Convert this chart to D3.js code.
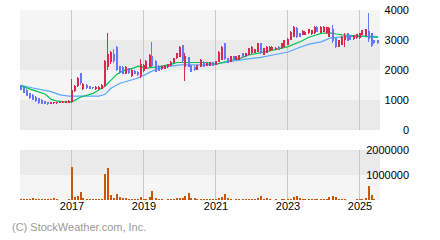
<!DOCTYPE html>
<html>
<head>
<meta charset="utf-8">
<script src="https://cdn.jsdelivr.net/npm/d3@7"></script>
<style>
    body { margin: 0; background: #fff; }
    svg text { font-family: "Liberation Sans", Arial, sans-serif; }
</style>
</head>
<body>
<div id="chart"></div>
<script>
// monthly candles, Aug 2015 .. Jul 2025
const startMonth = new Date(2015, 7, 1);
const months = d3.timeMonth.range(startMonth, new Date(2025, 7, 1));

const open = [
    1480, 1430, 1350, 1230, 1170, 1110, 1060, 1010, 960, 940,
    880, 890, 890, 900, 900, 900, 910, 920, 1310, 1470,
    1890, 1360, 1500, 1470, 1440, 1360, 1360, 1380, 1470, 2100,
    2280, 2550, 2780, 2120, 2100, 1880, 2060, 1800, 1980, 1950,
    1800, 1960, 2050, 2110, 2450, 2300, 2150, 2020, 2050, 2100,
    2150, 2220, 2390, 2440, 2830, 2100, 2420, 2170, 2110, 2000,
    2110, 2280, 2130, 2130, 2270, 2170, 2280, 2330, 2890, 2390,
    2280, 2470, 2330, 2350, 2560, 2450, 2500, 2560, 2580, 2610,
    2890, 2500, 2580, 2640, 2670, 2670, 2780, 2720, 2780, 2830,
    3000, 3110, 3400, 3220, 3170, 3170, 3220, 3190, 3220, 3440,
    3240, 3280, 3220, 3110, 3360, 3070, 2780, 2830, 3000, 3220,
    3170, 3020, 3060, 3060, 3170, 3130, 3300, 3220, 2990, 2990
];
const high = [
    1510, 1450, 1370, 1250, 1190, 1130, 1080, 1020, 980, 950,
    950, 950, 950, 960, 960, 980, 990, 1690, 1500, 1780,
    1900, 1560, 1520, 1480, 1450, 1460, 1470, 1520, 2330, 3220,
    2650, 2700, 2800, 2150, 2120, 2120, 2080, 2020, 2000, 1960,
    2370, 2190, 2320, 2520, 2940, 2350, 2170, 2140, 2160, 2210,
    2290, 2400, 2570, 2800, 2840, 2560, 2440, 2180, 2120, 2180,
    2360, 2290, 2250, 2280, 2280, 2310, 2620, 2800, 2900, 2400,
    2480, 2480, 2480, 2510, 2570, 2570, 2730, 2790, 2700, 2900,
    2900, 2730, 2790, 2790, 2790, 2760, 2790, 2900, 3000, 3060,
    3290, 3470, 3440, 3230, 3320, 3290, 3360, 3340, 3470, 3470,
    3450, 3450, 3430, 3440, 3500, 3080, 3010, 3120, 3220, 3230,
    3180, 3180, 3200, 3230, 3340, 3360, 3910, 3230, 3000, 3000
];
const low = [
    1320, 1220, 1120, 1050, 990, 940, 880, 860, 860, 850,
    870, 880, 880, 890, 890, 890, 900, 900, 1280, 1440,
    1500, 1330, 1380, 1370, 1380, 1350, 1350, 1370, 1440, 2000,
    2200, 2250, 1980, 1870, 1860, 1860, 1880, 1780, 1860, 1800,
    1720, 1940, 2030, 2090, 2100, 1940, 1970, 2000, 2030, 2080,
    2130, 2200, 2370, 2420, 2280, 1630, 2090, 1930, 1980, 1990,
    2100, 2100, 2120, 2120, 2120, 2160, 2270, 2320, 2350, 2240,
    2270, 2320, 2320, 2340, 2410, 2440, 2490, 2550, 2570, 2600,
    2550, 2490, 2570, 2630, 2660, 2660, 2660, 2710, 2770, 2820,
    2990, 3100, 3080, 3100, 3160, 3160, 3210, 3180, 3210, 3270,
    3230, 3270, 3210, 3100, 2900, 2750, 2770, 2820, 2780, 2950,
    2990, 3010, 3050, 3050, 3160, 3120, 2940, 2780, 2880, 2880
];
const close = [
    1340, 1240, 1140, 1070, 1010, 960, 900, 880, 880, 870,
    930, 940, 940, 950, 950, 960, 970, 1330, 1470, 1750,
    1560, 1530, 1390, 1380, 1390, 1440, 1450, 1500, 2300, 2550,
    2610, 2300, 2000, 1900, 1880, 2100, 1900, 2000, 1880, 1820,
    2200, 2170, 2300, 2500, 2150, 1950, 1980, 2130, 2150, 2200,
    2280, 2390, 2560, 2780, 2300, 2450, 2110, 1940, 1990, 2170,
    2350, 2110, 2240, 2270, 2130, 2300, 2600, 2780, 2360, 2250,
    2470, 2330, 2470, 2500, 2420, 2560, 2720, 2780, 2690, 2890,
    2560, 2720, 2780, 2780, 2780, 2750, 2670, 2890, 2990, 3050,
    3280, 3440, 3090, 3110, 3310, 3280, 3350, 3330, 3440, 3280,
    3440, 3440, 3420, 3390, 2950, 2760, 3000, 3110, 3130, 2960,
    3000, 3170, 3190, 3220, 3330, 3350, 3050, 2800, 2890, 2890
];
const volume = [
    40000, 40000, 40000, 40000, 80000, 40000, 40000, 40000, 40000, 40000,
    40000, 80000, 40000, 0, 0, 0, 40000, 1330000, 120000, 160000,
    320000, 80000, 40000, 40000, 40000, 40000, 40000, 40000, 1040000, 1280000,
    200000, 80000, 240000, 120000, 80000, 80000, 40000, 40000, 40000, 40000,
    120000, 40000, 40000, 120000, 360000, 80000, 40000, 40000, 0, 40000,
    40000, 40000, 80000, 80000, 80000, 160000, 280000, 80000, 80000, 40000,
    40000, 40000, 40000, 40000, 40000, 40000, 80000, 120000, 240000, 80000,
    40000, 0, 40000, 40000, 40000, 40000, 40000, 40000, 40000, 80000,
    160000, 40000, 80000, 40000, 0, 40000, 0, 40000, 40000, 40000,
    40000, 120000, 160000, 80000, 40000, 40000, 40000, 40000, 40000, 40000,
    40000, 40000, 40000, 120000, 160000, 120000, 40000, 40000, 40000, 0,
    0, 0, 40000, 40000, 40000, 80000, 560000, 200000, 40000, 0
];

// moving averages: [month index, price]
const maShort = [
    [0, 1470], [4, 1330], [8, 1200], [10, 1030], [12, 960], [15, 940], [17, 940],
    [20, 1100], [24, 1220], [28, 1460], [30, 1660], [32, 1860], [34, 1970],
    [38, 2080], [39, 2130], [42, 2060], [46, 2110], [50, 2190], [52, 2250],
    [62, 2250], [65, 2190], [69, 2300], [73, 2390], [76, 2500], [80, 2580],
    [84, 2660], [89, 2780], [93, 2940], [96, 3090], [100, 3220], [103, 3240],
    [105, 3200], [107, 3170], [113, 3130], [119, 3090]
];
const maLong = [
    [0, 1490], [4, 1400], [10, 1280], [13, 1170], [16, 1130], [26, 1130],
    [28, 1190], [30, 1390], [33, 1560], [38, 1700], [41, 1820], [43, 1930],
    [46, 2060], [50, 2130], [53, 2170], [62, 2170], [66, 2220], [71, 2300],
    [75, 2360], [80, 2420], [84, 2500], [89, 2600], [93, 2760], [96, 2860],
    [100, 2940], [103, 3060], [105, 3090], [109, 3110], [113, 3130], [119, 3110]
];

const priceTicks = [0, 1000, 2000, 3000, 4000];
const volumeTicks = [1000000, 2000000];
const yearTicks = [2017, 2019, 2021, 2023, 2025];

const width = 440,
    height = 240,
    left = 20,
    right = 380,
    price = {top: 10, bottom: 130},
    vol = {top: 150, bottom: 200};

const upColor = "#d8294f",
    downColor = "#6577fb",
    volColor = "#c9560d",
    shortColor = "#00c451",
    longColor = "#55a8ff";

const x = d3.scaleLinear()
    .domain([0, months.length])
    .range([left + 0.5, right + 0.5]);

const y = d3.scaleLinear()
    .domain([0, 4000])
    .range([price.bottom, price.top]);

const yVol = d3.scaleLinear()
    .domain([0, 2000000])
    .range([vol.bottom, vol.top]);

const monthIndex = (year) => d3.timeMonth.count(startMonth, new Date(year, 0, 1));
const px = (i) => Math.round(x(i));

const svg = d3.select("#chart")
    .append("svg")
    .attr("width", width)
    .attr("height", height);

// background bands
const bands = svg.append("g");
d3.pairs(priceTicks).forEach(([a, b], i) => {
    bands.append("rect")
        .attr("x", left).attr("width", right - left)
        .attr("y", y(b)).attr("height", y(a) - y(b))
        .attr("fill", i % 2 === 0 ? "#eaeaea" : "#f5f5f5");
});
[[0, 1000000], [1000000, 2000000]].forEach(([a, b], i) => {
    bands.append("rect")
        .attr("x", left).attr("width", right - left)
        .attr("y", yVol(b)).attr("height", yVol(a) - yVol(b))
        .attr("fill", i === 0 ? "#f5f5f5" : "#eaeaea");
});

// vertical year grid
yearTicks.forEach((yr) => {
    const gx = Math.floor(x(monthIndex(yr))) + 0.5;
    [[price.top, price.bottom], [vol.top, vol.bottom]].forEach(([t, b]) => {
        svg.append("line")
            .attr("x1", gx).attr("x2", gx)
            .attr("y1", t).attr("y2", b)
            .attr("stroke", "#c8c8c8");
    });
});

// moving averages
const maLine = d3.line()
    .x((d) => x(d[0]) + 0.5)
    .y((d) => y(d[1]));
svg.append("path").datum(maLong).attr("d", maLine)
    .attr("fill", "none").attr("stroke", longColor).attr("stroke-width", 1.2);
svg.append("path").datum(maShort).attr("d", maLine)
    .attr("fill", "none").attr("stroke", shortColor).attr("stroke-width", 1.2);

// candles
const candles = svg.append("g").attr("shape-rendering", "crispEdges");
months.forEach((m, i) => {
    const cx = px(i);
    const up = close[i] >= open[i];
    const col = up ? upColor : downColor;
    candles.append("line")
        .attr("x1", cx - 0.5).attr("x2", cx - 0.5)
        .attr("y1", Math.round(y(high[i]))).attr("y2", Math.round(y(low[i])))
        .attr("stroke", col);
    const top = Math.round(y(Math.max(open[i], close[i])));
    const bot = Math.round(y(Math.min(open[i], close[i])));
    candles.append("rect")
        .attr("x", cx - 1).attr("width", 2)
        .attr("y", top).attr("height", Math.max(1, bot - top))
        .attr("fill", col);
});

// volume bars
svg.append("g")
    .attr("shape-rendering", "crispEdges")
    .selectAll("rect")
    .data(volume)
    .join("rect")
    .attr("x", (d, i) => px(i) - 1)
    .attr("width", 2)
    .attr("y", (d) => Math.round(yVol(d)))
    .attr("height", (d) => vol.bottom - Math.round(yVol(d)))
    .attr("fill", volColor);

// right axes
const styleRight = (g) => g
    .call((g) => g.select(".domain").remove())
    .call((g) => g.selectAll("text")
        .attr("text-anchor", "end")
        .attr("font-size", 11)
        .attr("fill", "#000"));

svg.append("g")
    .attr("transform", `translate(${right + 29},0)`)
    .call(d3.axisRight(y).tickValues(priceTicks).tickFormat(d3.format("d")).tickSize(0).tickPadding(0))
    .call(styleRight);

svg.append("g")
    .attr("transform", `translate(${right + 29},0)`)
    .call(d3.axisRight(yVol).tickValues(volumeTicks).tickFormat(d3.format("d")).tickSize(0).tickPadding(0))
    .call(styleRight);

// year labels
const yearAxis = d3.axisBottom(x)
    .tickValues(yearTicks.map(monthIndex))
    .tickFormat((d, i) => yearTicks[i])
    .tickSize(0)
    .tickPadding(2);
svg.append("g")
    .attr("transform", `translate(0,${vol.bottom})`)
    .call(yearAxis)
    .call((g) => g.select(".domain").remove())
    .call((g) => g.selectAll("text")
        .attr("font-size", 11)
        .attr("fill", "#000"));

svg.append("text")
    .attr("x", 12)
    .attr("y", 231)
    .attr("font-size", 11)
    .attr("fill", "#9a9a9a")
    .text("(C) StockWeather.com, Inc.");
</script>
</body>
</html>
